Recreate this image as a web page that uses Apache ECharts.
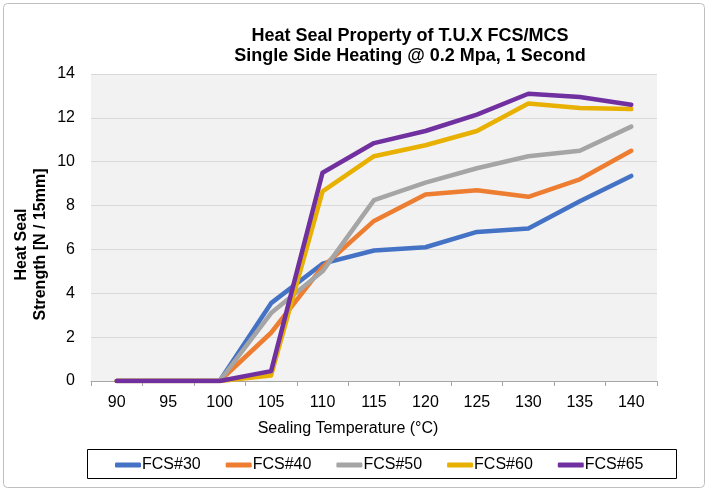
<!DOCTYPE html>
<html><head><meta charset="utf-8">
<script src="https://cdn.jsdelivr.net/npm/echarts@6/dist/echarts.min.js"></script>
<style>html,body{margin:0;padding:0;background:#fff}#c{width:709px;height:492px}</style>
</head><body><div id="c"></div>
<script>
const categories = ['90','95','100','105','110','115','120','125','130','135','140'];
const fcs30 = [0,0,0,3.55,5.35,5.95,6.1,6.8,6.95,8.2,9.35];
const fcs40 = [0,0,0,2.2,5.2,7.3,8.5,8.7,8.4,9.2,10.5];
const fcs50 = [0,0,0,3.1,5.0,8.25,9.05,9.7,10.25,10.5,11.6];
const fcs60 = [0,0,0,0.25,8.65,10.25,10.75,11.4,12.65,12.45,12.4];
const fcs65 = [0,0,0,0.45,9.5,10.85,11.4,12.15,13.1,12.95,12.6];
const seriesNames = ['FCS#30','FCS#40','FCS#50','FCS#60','FCS#65'];
const seriesData = [fcs30,fcs40,fcs50,fcs60,fcs65];
const colors = ['#4472C4','#ED7D31','#A5A5A5','#E8B000','#7030A0'];
const FONT = 'Liberation Sans, Arial, sans-serif';

const chart = echarts.init(document.getElementById('c'), null, {renderer:'canvas'});
chart.setOption({
  animation:false,
  backgroundColor:'#fff',
  color: colors,
  title:{
    text:'Heat Seal Property of T.U.X FCS/MCS\nSingle Side Heating @ 0.2 Mpa, 1 Second',
    left:405, top:21, textAlign:'center',
    textStyle:{fontFamily:FONT,fontSize:18,fontWeight:'bold',color:'#000',lineHeight:20}
  },
  grid:{left:91,right:52,top:74,bottom:111,show:true,backgroundColor:'#F2F2F2',borderWidth:0},
  xAxis:{
    type:'category', data:categories, boundaryGap:true,
    name:'Sealing Temperature (°C)', nameLocation:'middle', nameGap:40, nameMoveOverlap:false,
    nameTextStyle:{fontFamily:FONT,fontSize:16,color:'#000',padding:[0,52,0,0]},
    axisLine:{show:true,lineStyle:{color:'#A6A6A6',width:1}},
    axisTick:{show:true,length:5,lineStyle:{color:'#A6A6A6'}},
    axisLabel:{fontFamily:FONT,fontSize:16,color:'#000',margin:14},
    splitLine:{show:false}
  },
  yAxis:{
    type:'value', min:0, max:14, interval:2,
    name:'Heat Seal\nStrength [N / 15mm]', nameLocation:'middle', nameGap:41, nameMoveOverlap:false,
    nameTextStyle:{fontFamily:FONT,fontSize:16,fontWeight:'bold',color:'#000',lineHeight:19,padding:[0,34,0,0]},
    axisLine:{show:false}, axisTick:{show:false},
    axisLabel:{fontFamily:FONT,fontSize:16,color:'#000',margin:16},
    splitLine:{show:true,lineStyle:{color:'#D9D9D9',width:1}}
  },
  legend:{
    data:seriesNames, left:110, top:452,
    itemWidth:26, itemHeight:5, itemGap:25,
    icon:'roundRect',
    textStyle:{fontFamily:FONT,fontSize:16,color:'#000',padding:[0,0,0,-4]}
  },
  graphic:[
    {type:'rect',shape:{x:3.5,y:3.5,width:701,height:484,r:4},style:{fill:'none',stroke:'#BFBFBF',lineWidth:1},z:-1},
    {type:'rect',shape:{x:87.5,y:449.5,width:589,height:29},style:{fill:'none',stroke:'#000',lineWidth:1},z:-1}
  ],
  series: seriesData.map((d,i)=>({
    name:seriesNames[i], type:'line', data:d, symbol:'none',
    lineStyle:{width:4.5,color:colors[i],cap:'round',join:'round'},
    itemStyle:{color:colors[i]}
  }))
});
</script></body></html>
